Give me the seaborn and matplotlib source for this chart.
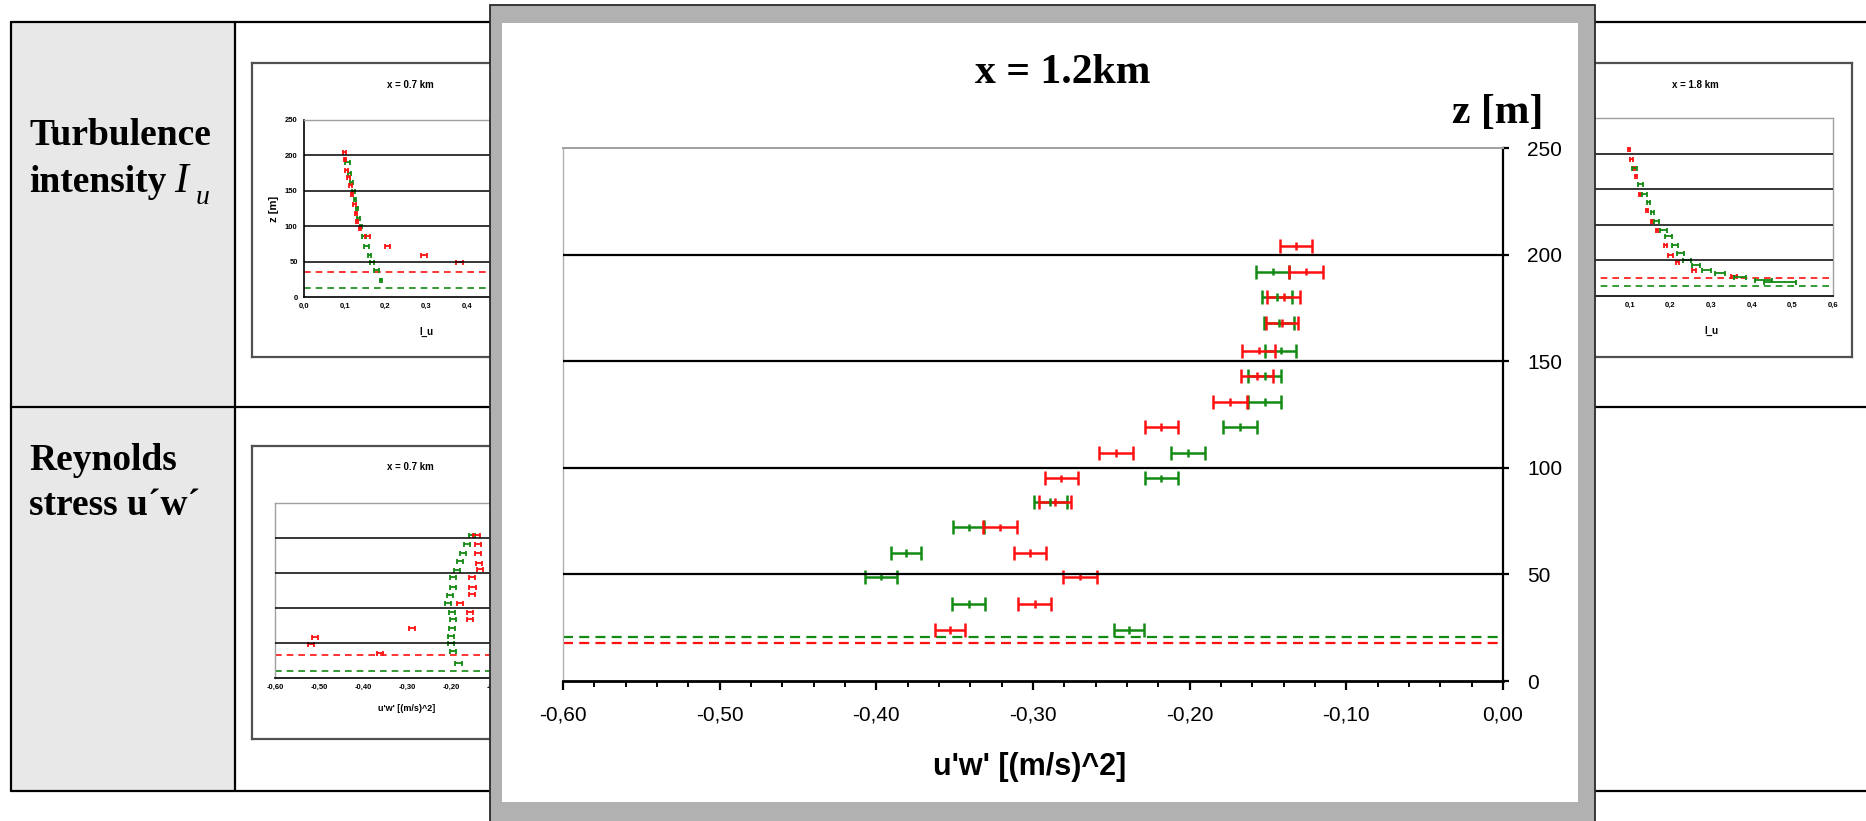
import numpy as np
import pandas as pd
import matplotlib
matplotlib.use("Agg")
import matplotlib.pyplot as plt
import seaborn as sns
from matplotlib.patches import Rectangle
from matplotlib.lines import Line2D
from matplotlib.ticker import MultipleLocator, FuncFormatter

# ---------------- data : main chart, x = 1.2 km ----------------
z_red = [204, 192, 180, 168, 155, 143, 131, 119, 107, 95, 84, 72, 60, 49, 36, 24]
uw_red = [-0.132, -0.1255, -0.140, -0.141, -0.156, -0.157, -0.174, -0.218,
          -0.247, -0.282, -0.286, -0.321, -0.302, -0.270, -0.299, -0.353]
err_red = [0.0104, 0.0108, 0.0105, 0.0104, 0.0104, 0.0105, 0.0108, 0.0106,
           0.0106, 0.0106, 0.0101, 0.0106, 0.0104, 0.0106, 0.0104, 0.0096]
z_green = [192, 180, 168, 155, 143, 131, 119, 107, 95, 84, 72, 60, 49, 36, 24]
uw_green = [-0.147, -0.144, -0.143, -0.142, -0.152, -0.152, -0.168, -0.201,
            -0.218, -0.289, -0.341, -0.381, -0.397, -0.341, -0.239]
err_green = [0.0106, 0.0096, 0.0098, 0.0098, 0.0106, 0.0106, 0.0107, 0.0106,
             0.0106, 0.0106, 0.0099, 0.0098, 0.0104, 0.0104, 0.0096]
ref_red = 18
ref_green = 20.5
grid_levels = [50, 100, 150, 200]
x_ticks = [-0.6, -0.5, -0.4, -0.3, -0.2, -0.1, 0.0]
y_ticks = [0, 50, 100, 150, 200, 250]
main_title = "x = 1.2km"
main_xlabel = "u'w' [(m/s)^2]"
main_ylabel = "z [m]"

# ---------------- data : thumbnails ----------------
# turbulence intensity, x = 0.7 km
t1_z_red = [205, 195, 180, 170, 158, 146, 131, 119, 108, 97, 86, 72, 60, 49]
t1_iu_red = [0.100, 0.101, 0.105, 0.109, 0.114, 0.118, 0.124, 0.128, 0.131,
             0.138, 0.157, 0.205, 0.295, 0.382]
t1_err_red = [0.003, 0.003, 0.004, 0.003, 0.003, 0.003, 0.003, 0.003, 0.003,
              0.003, 0.006, 0.007, 0.007, 0.008]
t1_z_green = [190, 175, 162, 150, 138, 125, 112, 100, 86, 72, 60, 49, 38, 24]
t1_iu_green = [0.107, 0.112, 0.117, 0.121, 0.126, 0.130, 0.134, 0.140, 0.148,
               0.154, 0.161, 0.168, 0.179, 0.190]
t1_err_green = [0.006, 0.003, 0.003, 0.004, 0.003, 0.003, 0.003, 0.003, 0.005,
                0.006, 0.003, 0.005, 0.006, 0.003]
t1_ref_red, t1_ref_green = 35, 13

# turbulence intensity, x = 1.8 km
t3_z_red = [206, 192, 180, 168, 143, 121, 105, 93, 72, 58, 48, 37, 28]
t3_iu_red = [0.099, 0.104, 0.110, 0.116, 0.126, 0.142, 0.155, 0.167, 0.188,
             0.200, 0.217, 0.258, 0.356]
t3_err_red = [0.003, 0.003, 0.003, 0.003, 0.003, 0.003, 0.003, 0.003, 0.003,
              0.006, 0.004, 0.004, 0.008]
t3_z_green = [180, 157, 143, 132, 118, 105, 93, 84, 72, 60, 51, 44, 37, 32, 27, 22, 19]
t3_iu_green = [0.111, 0.127, 0.136, 0.146, 0.156, 0.167, 0.183, 0.195, 0.211,
               0.225, 0.240, 0.264, 0.289, 0.322, 0.371, 0.429, 0.470]
t3_err_green = [0.006, 0.006, 0.006, 0.004, 0.004, 0.006, 0.008, 0.008, 0.008,
                0.008, 0.010, 0.010, 0.012, 0.012, 0.015, 0.022, 0.040]
t3_ref_red, t3_ref_green = 25, 14

# Reynolds stress, x = 0.7 km
t2_z_green = [204, 192, 178, 167, 154, 145, 130, 119, 107, 95, 84, 71, 60, 50, 38, 22]
t2_uw_green = [-0.153, -0.164, -0.172, -0.180, -0.187, -0.195, -0.195, -0.202,
               -0.206, -0.198, -0.195, -0.198, -0.200, -0.200, -0.195, -0.183]
t2_z_red = [204, 192, 178, 165, 156, 145, 130, 120, 107, 95, 84, 71, 59, 48, 36]
t2_uw_red = [-0.142, -0.138, -0.138, -0.136, -0.135, -0.153, -0.151, -0.153,
             -0.180, -0.157, -0.156, -0.289, -0.509, -0.519, -0.361]
t2_ref_red, t2_ref_green = 33, 10

row_labels = ["Turbulence", "intensity", "Reynolds", "stress u\u00b4w\u00b4"]
thumb_titles = ["x = 0.7 km", "x = 1.8 km", "x = 0.7 km"]

RED = "#ff1010"
GREEN = "#138a13"

# ---------------- figure ----------------
sns.set_style("white")
plt.rcParams["font.family"] = ["Liberation Sans", "DejaVu Sans"]
plt.rcParams["text.color"] = "black"
plt.rcParams["axes.labelcolor"] = "black"
plt.rcParams["xtick.color"] = "black"
plt.rcParams["ytick.color"] = "black"

W, H = 1866, 821
fig = plt.figure(figsize=(W / 100, H / 100), dpi=100, facecolor="white")


def fx(px):
    return px / W


def fy(py):
    return 1 - py / H


def frect(x0, y0, x1, y1):
    return [x0 / W, 1 - y1 / H, (x1 - x0) / W, (y1 - y0) / H]


def comma(fmt):
    def f(v, p):
        if abs(v) < 1e-9:
            v = 0.0
        return format(v, fmt).replace(".", ",")
    return FuncFormatter(f)


# ---------- background table ----------
fig.add_artist(Rectangle((fx(11), fy(791)), (235 - 11) / W, (791 - 22) / H,
                         transform=fig.transFigure, facecolor="#e8e8e8",
                         edgecolor="none", zorder=0.1))
for (x0, y0, x1, y1) in [(11, 22, 1866, 22), (11, 407, 1866, 407),
                         (11, 791, 1866, 791), (11, 22, 11, 791),
                         (235, 22, 235, 791)]:
    fig.add_artist(Line2D([fx(x0), fx(x1)], [fy(y0), fy(y1)],
                          transform=fig.transFigure, color="black", lw=1.6,
                          zorder=0.5))

serif = ["Liberation Serif", "DejaVu Serif"]
fig.text(fx(29), fy(145), row_labels[0], family=serif, weight="bold", size=27,
         va="baseline", ha="left", zorder=3, color="black")
fig.text(fx(29), fy(192), row_labels[1], family=serif, weight="bold", size=27,
         va="baseline", ha="left", zorder=3, color="black")
fig.text(fx(174), fy(192), "I", family=serif, style="italic", size=30,
         va="baseline", ha="left", zorder=3, color="black")
fig.text(fx(196), fy(204), "u", family=serif, style="italic", size=20,
         va="baseline", ha="left", zorder=3, color="black")
fig.text(fx(29), fy(470), row_labels[2], family=serif, weight="bold", size=27,
         va="baseline", ha="left", zorder=3, color="black")
fig.text(fx(29), fy(515), row_labels[3], family=serif, weight="bold", size=27,
         va="baseline", ha="left", zorder=3, color="black")


# ---------- thumbnails ----------
def thumb_box(x0, y0, x1, y1):
    b = fig.add_axes(frect(x0, y0, x1, y1), zorder=1)
    b.set_xticks([])
    b.set_yticks([])
    b.set_facecolor("white")
    for s in b.spines.values():
        s.set_color("#505050")
        s.set_linewidth(1.6)
    return b


def thumb_plot(rect, xlim, yright=False):
    a = fig.add_axes(frect(*rect), zorder=2)
    a.set_facecolor("white")
    a.set_xlim(*xlim)
    a.set_ylim(0, 250)
    for z in grid_levels:
        a.axhline(z, color="black", lw=1.1, zorder=4)
    a.spines["top"].set_color("#a0a0a0")
    a.spines["top"].set_linewidth(1.0)
    a.spines["bottom"].set_color("black")
    a.spines["bottom"].set_linewidth(1.2)
    a.set_yticks(y_ticks)
    if yright:
        a.yaxis.tick_right()
        a.spines["left"].set_color("#a0a0a0")
        a.spines["left"].set_linewidth(1.0)
        a.spines["right"].set_color("black")
    else:
        a.spines["left"].set_color("black")
        a.spines["left"].set_linewidth(1.2)
        a.spines["right"].set_color("#a0a0a0")
        a.spines["right"].set_linewidth(1.0)
    a.tick_params(axis="both", direction="out", length=2.5, width=0.8,
                  labelsize=5.5, pad=2, colors="black")
    return a


def thumb_series(a, xs, zs, err, color, lw=1.3):
    a.errorbar(xs, zs, xerr=err, fmt="none", ecolor=color, elinewidth=lw,
               capsize=1.8, capthick=lw, zorder=3)


# thumbnail 1 : I_u, x = 0.7 km
thumb_box(252, 63, 567, 357)
a1 = thumb_plot((304, 120, 548, 297), (0, 0.6))
a1.set_xticks([0, 0.1, 0.2, 0.3, 0.4, 0.5, 0.6])
a1.xaxis.set_major_formatter(comma(".1f"))
a1.axhline(t1_ref_red, color=RED, lw=1.2, ls=(0, (4, 3)), zorder=2)
a1.axhline(t1_ref_green, color=GREEN, lw=1.2, ls=(0, (4, 3)), zorder=2)
thumb_series(a1, t1_iu_green, t1_z_green, t1_err_green, GREEN)
thumb_series(a1, t1_iu_red, t1_z_red, t1_err_red, RED)
a1.set_ylabel("z [m]", fontsize=8, fontweight="bold", labelpad=4)
a1.set_xlabel("I_u", fontsize=7, fontweight="bold", labelpad=12)
for lab in a1.get_xticklabels() + a1.get_yticklabels():
    lab.set_fontweight("bold")
fig.text(fx(410), fy(85), thumb_titles[0], fontsize=7, fontweight="bold",
         ha="center", va="center", zorder=3)

# thumbnail 3 : I_u, x = 1.8 km
thumb_box(1537, 63, 1852, 357)
a3 = thumb_plot((1589, 118, 1833, 296), (0, 0.6))
a3.set_xticks([0, 0.1, 0.2, 0.3, 0.4, 0.5, 0.6])
a3.xaxis.set_major_formatter(comma(".1f"))
a3.axhline(t3_ref_red, color=RED, lw=1.2, ls=(0, (4, 3)), zorder=2)
a3.axhline(t3_ref_green, color=GREEN, lw=1.2, ls=(0, (4, 3)), zorder=2)
thumb_series(a3, t3_iu_red, t3_z_red, t3_err_red, RED)
thumb_series(a3, t3_iu_green, t3_z_green, t3_err_green, GREEN)
a3.set_xlabel("I_u", fontsize=7, fontweight="bold", labelpad=12)
for lab in a3.get_xticklabels() + a3.get_yticklabels():
    lab.set_fontweight("bold")
fig.text(fx(1695), fy(85), thumb_titles[1], fontsize=7, fontweight="bold",
         ha="center", va="center", zorder=3)

# thumbnail 2 : u'w', x = 0.7 km
thumb_box(252, 446, 567, 739)
a2 = thumb_plot((275, 503, 539, 678), (-0.6, 0.0), yright=True)
a2.set_xticks(x_ticks)
a2.xaxis.set_minor_locator(MultipleLocator(0.02))
a2.tick_params(axis="x", which="minor", length=1.5, width=0.7)
a2.xaxis.set_major_formatter(comma(".2f"))
a2.axhline(t2_ref_red, color=RED, lw=1.2, ls=(0, (4, 3)), zorder=2)
a2.axhline(t2_ref_green, color=GREEN, lw=1.2, ls=(0, (4, 3)), zorder=2)
thumb_series(a2, t2_uw_green, t2_z_green, [0.007] * len(t2_z_green), GREEN)
thumb_series(a2, t2_uw_red, t2_z_red, [0.007] * len(t2_z_red), RED)
a2.set_xlabel(main_xlabel, fontsize=6.5, fontweight="bold", labelpad=9)
for lab in a2.get_xticklabels() + a2.get_yticklabels():
    lab.set_fontweight("bold")
fig.text(fx(410), fy(467), thumb_titles[2], fontsize=7, fontweight="bold",
         ha="center", va="center", zorder=3)

# ---------- overlay panel ----------
fig.add_artist(Rectangle((fx(490), fy(823)), (1595 - 490) / W, (823 - 5) / H,
                         transform=fig.transFigure, facecolor="#b1b1b1",
                         edgecolor="#2a2a2a", lw=1.3, zorder=10))
fig.add_artist(Rectangle((fx(502), fy(802)), (1578 - 502) / W, (802 - 23) / H,
                         transform=fig.transFigure, facecolor="white",
                         edgecolor="none", zorder=10.5))

# ---------- main chart ----------
ax = fig.add_axes(frect(563, 148, 1503, 681), zorder=11)
ax.set_facecolor("white")

for z in grid_levels:
    ax.axhline(z, color="black", lw=1.6, zorder=5)
ax.axhline(ref_green, color=GREEN, lw=1.6, ls=(0, (4.5, 2.8)), zorder=2)
ax.axhline(ref_red, color=RED, lw=1.6, ls=(0, (4.5, 2.8)), zorder=2)

ax.errorbar(uw_green, z_green, xerr=err_green, fmt="none", ecolor=GREEN,
            elinewidth=1.8, capsize=4.7, capthick=1.8, zorder=3)
ax.errorbar(uw_red, z_red, xerr=err_red, fmt="none", ecolor=RED,
            elinewidth=1.8, capsize=4.7, capthick=1.8, zorder=3.2)

df = pd.DataFrame({
    "uw": uw_green + uw_red,
    "z": z_green + z_red,
    "series": ["green"] * len(z_green) + ["red"] * len(z_red),
})
sns.scatterplot(data=df, x="uw", y="z", hue="series",
                palette={"green": GREEN, "red": RED}, marker="|", s=30,
                linewidth=1.8, legend=False, ax=ax, zorder=4)

ax.set_xlim(-0.6, 0.0)
ax.set_ylim(0, 250)
ax.set_xticks(x_ticks)
ax.xaxis.set_minor_locator(MultipleLocator(0.02))
ax.xaxis.set_major_formatter(comma(".2f"))
ax.set_yticks(y_ticks)
ax.yaxis.tick_right()
ax.yaxis.set_label_position("right")

ax.spines["top"].set_color("#a0a0a0")
ax.spines["top"].set_linewidth(1.4)
ax.spines["left"].set_color("#b0b0b0")
ax.spines["left"].set_linewidth(1.0)
ax.spines["right"].set_color("black")
ax.spines["right"].set_linewidth(1.6)
ax.spines["bottom"].set_color("black")
ax.spines["bottom"].set_linewidth(2.0)

ax.tick_params(axis="x", which="major", direction="out", length=6.5, width=1.6,
               labelsize=15, pad=11, colors="black", bottom=True)
ax.tick_params(axis="x", which="minor", direction="out", length=4.3, width=1.4,
               colors="black", bottom=True)
ax.tick_params(axis="y", which="major", direction="out", length=4.5, width=1.6,
               labelsize=15, pad=13, colors="black", right=True, left=False)

ax.set_xlabel(main_xlabel, fontsize=22, fontweight="bold", labelpad=18,
              color="black")
ax.xaxis.set_label_coords((1030 - 563) / 940, -(767 - 681) / 533)
ax.xaxis.label.set_va("center")
ax.set_ylabel(main_ylabel, rotation=0, family=serif, fontweight="bold",
              fontsize=30, ha="center", va="baseline", color="black")
ax.yaxis.set_label_coords((1498 - 563) / 940, (681 - 123) / 533)
ax.text((1063 - 563) / 940, (681 - 83) / 533, main_title, transform=ax.transAxes,
        family=serif, fontweight="bold", fontsize=30, ha="center",
        va="baseline", color="black")

fig.savefig("out.png", dpi=100, facecolor="white")
